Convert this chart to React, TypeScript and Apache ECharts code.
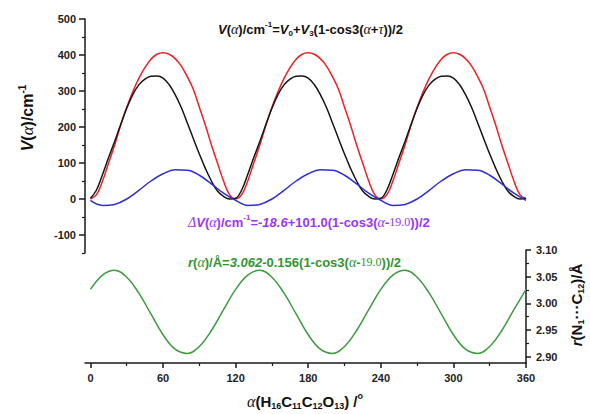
import React, { useEffect, useRef } from "react";
import * as echarts from "echarts";

// ---- data ----
const angles5 = [0,5,10,15,20,25,30,35,40,45,50,55,60,65,70,75,80,85,90,95,100,105,110,115,120,125,130,135,140,145,150,155,160,165,170,175,180,185,190,195,200,205,210,215,220,225,230,235,240,245,250,255,260,265,270,275,280,285,290,295,300,305,310,315,320,325,330,335,340,345,350,355,360];
const redV = [0,12,50,100,150,205,255,298,335,365,388,402,406,402,390,370,340,305,255,205,150,100,50,12,
  0,12,50,100,150,205,255,298,335,365,388,402,406,402,390,370,340,305,255,205,150,100,50,12,
  0,12,50,100,150,205,255,298,335,365,388,402,406,402,390,370,340,305,255,205,150,100,50,12,0];
const blackV = [2,25,68,115,160,207,252,290,317,333,341,342,336,318,290,255,212,168,125,85,50,22,7,0,
  2,25,68,115,160,207,252,290,317,333,341,342,336,318,290,255,212,168,125,85,50,22,7,0,
  2,25,68,115,160,207,252,290,317,333,341,342,336,318,290,255,212,168,125,85,50,22,7,0,2];
const angles10 = [0,10,20,30,40,50,60,70,80,90,100,110,120,130,140,150,160,170,180,190,200,210,220,230,240,250,260,270,280,290,300,310,320,330,340,350,360];
const blueDV = [-4,-18,-15,0,24,50,70,81,80,66,42,16,
  -4,-18,-15,0,24,50,70,81,80,66,42,16,
  -4,-18,-15,0,24,50,70,81,80,66,42,16,-4];
const greenR = [3.026,3.053,3.062,3.049,3.019,2.980,2.941,2.914,2.906,2.919,2.949,2.988,
  3.026,3.053,3.062,3.049,3.019,2.980,2.941,2.914,2.906,2.919,2.949,2.988,
  3.026,3.053,3.062,3.049,3.019,2.980,2.941,2.914,2.906,2.919,2.949,2.988,3.026];

const xMajor = [0, 60, 120, 180, 240, 300, 360];
const xMinor = [30, 90, 150, 210, 270, 330];
const vMajor = [-100, 0, 100, 200, 300, 400, 500];
const vMinor = [-150, -50, 50, 150, 250, 350, 450];
const rMajor = [2.9, 2.95, 3.0, 3.05, 3.1];
const rMinor = [2.925, 2.975, 3.025, 3.075];

const SANS = "'Liberation Sans', Arial, sans-serif";
const SERIF = "'Liberation Serif', 'Times New Roman', serif";
const AX = "#1a1a1a";

function richStyles(size: number, color: string) {
  return {
    b: { fontFamily: SANS, fontWeight: "bold", fontSize: size, fill: color, color, lineHeight: size + 4 },
    i: { fontFamily: SANS, fontWeight: "bold", fontStyle: "italic", fontSize: size, fill: color, color, lineHeight: size + 4 },
    bi: { fontFamily: SANS, fontWeight: "bold", fontStyle: "italic", fontSize: size, fill: color, color, lineHeight: size + 4 },
    g: { fontFamily: SERIF, fontStyle: "italic", fontSize: size + 1, fill: color, color, lineHeight: size + 4 },
    t: { fontFamily: SERIF, fontSize: size - 1, fill: color, color, lineHeight: size + 4 },
    sup: { fontFamily: SANS, fontWeight: "bold", fontSize: Math.round(size * 0.6), fill: color, color, verticalAlign: "top", lineHeight: size * 0.6 },
    sub: { fontFamily: SANS, fontWeight: "bold", fontSize: Math.round(size * 0.6), fill: color, color, verticalAlign: "bottom", lineHeight: size * 0.6 },
  };
}

const tickLabel = { fontFamily: SANS, fontWeight: "bold" as const, fontSize: 11, color: "#222" };

export default function App() {
  const ref = useRef<HTMLDivElement>(null);
  useEffect(() => {
    document.body.style.margin = "0";
    if (!ref.current) return;
    const chart = echarts.init(ref.current, undefined, { renderer: "svg" });
    const line = (name: string, xs: number[], ys: number[], color: string, xi: number, yi: number) => ({
      name,
      type: "line",
      xAxisIndex: xi,
      yAxisIndex: yi,
      data: xs.map((x, k) => [x, ys[k]]),
      smooth: 0.4,
      showSymbol: false,
      symbol: "none",
      lineStyle: { color, width: 1.5 },
      z: 3,
    });
    chart.setOption({
      animation: false,
      backgroundColor: "#ffffff",
      grid: [
        { left: 85, right: 64, top: 19, height: 234 },
        { left: 85, right: 64, top: 250, height: 113 },
      ],
      xAxis: [
        { gridIndex: 0, type: "value", min: -4.5, max: 360, show: false },
        {
          gridIndex: 1, type: "value", min: -4.5, max: 360, position: "bottom",
          axisLine: { show: true, onZero: false, lineStyle: { color: AX, width: 1.5 } },
          axisTick: { show: true, customValues: xMajor, length: 5, lineStyle: { color: AX, width: 1.5 } },
          axisLabel: { show: true, customValues: xMajor, margin: 9, ...tickLabel },
          splitLine: { show: false },
        },
        {
          gridIndex: 1, type: "value", min: -4.5, max: 360, position: "bottom",
          axisLine: { show: false, onZero: false },
          axisTick: { show: true, customValues: xMinor, length: 3, lineStyle: { color: AX, width: 1.2 } },
          axisLabel: { show: false },
          splitLine: { show: false },
        },
      ],
      yAxis: [
        {
          gridIndex: 0, type: "value", min: -150, max: 500, position: "left",
          axisLine: { show: true, onZero: false, lineStyle: { color: AX, width: 1.5 } },
          axisTick: { show: true, customValues: vMajor, length: 6, lineStyle: { color: AX, width: 1.5 } },
          axisLabel: { show: true, customValues: vMajor, margin: 9, ...tickLabel },
          splitLine: { show: false },
        },
        {
          gridIndex: 0, type: "value", min: -150, max: 500, position: "left",
          axisLine: { show: false, onZero: false },
          axisTick: { show: true, customValues: vMinor, length: 3, lineStyle: { color: AX, width: 1.2 } },
          axisLabel: { show: false },
          splitLine: { show: false },
        },
        {
          gridIndex: 1, type: "value", min: 2.888, max: 3.1, position: "right",
          axisLine: { show: true, onZero: false, lineStyle: { color: AX, width: 1.5 } },
          axisTick: { show: true, customValues: rMajor, length: 5, lineStyle: { color: AX, width: 1.5 } },
          axisLabel: { show: true, customValues: rMajor, margin: 10, formatter: (v: number) => v.toFixed(2), ...tickLabel },
          splitLine: { show: false },
        },
        {
          gridIndex: 1, type: "value", min: 2.888, max: 3.1, position: "right",
          axisLine: { show: false, onZero: false },
          axisTick: { show: true, customValues: rMinor, length: 3, lineStyle: { color: AX, width: 1.2 } },
          axisLabel: { show: false },
          splitLine: { show: false },
        },
      ],
      series: [
        line("V red", angles5, redV, "#ee1f26", 0, 0),
        line("V black", angles5, blackV, "#151515", 0, 0),
        line("dV blue", angles10, blueDV, "#2f2fd4", 0, 0),
        line("r green", angles10, greenR, "#3f9a3f", 1, 2),
      ],
      graphic: [
        {
          type: "text", x: 218, y: 29,
          style: {
            text: "{i|V}{b|(}{g|α}{b|)/cm}{sup|-1}{b|=}{i|V}{sub|0}{b|+}{i|V}{sub|3}{b|(1-cos3(}{g|α}{b|+}{g|τ}{b|))/2}",
            rich: richStyles(13, "#111111"), textAlign: "left", textVerticalAlign: "middle",
          },
        },
        {
          type: "text", x: 188, y: 222,
          style: {
            text: "{g|Δ}{i|V}{b|(}{g|α}{b|)/cm}{sup|-1}{b|=}{bi|-18.6}{b|+101.0(1-cos3(}{g|α}{b|-}{t|19.0}{b|))/2}",
            rich: richStyles(13, "#9a35f5"), textAlign: "left", textVerticalAlign: "middle",
          },
        },
        {
          type: "text", x: 188, y: 262,
          style: {
            text: "{i|r}{b|(}{g|α}{b|)/Å=}{bi|3.062}{b|-0.156(1-cos3(}{g|α}{b|-}{t|19.0}{b|))/2}",
            rich: richStyles(13, "#2f962f"), textAlign: "left", textVerticalAlign: "middle",
          },
        },
        {
          type: "text", x: 27, y: 118, rotation: Math.PI / 2,
          style: {
            text: "{i|V}{b|(}{g|α}{b|)/cm}{sup|-1}",
            rich: richStyles(16, "#111111"), textAlign: "center", textVerticalAlign: "middle",
          },
        },
        {
          type: "text", x: 576, y: 305, rotation: Math.PI / 2,
          style: {
            text: "{i|r}{b|(N}{sub|1}{b|···C}{sub|12}{b|)/Å}",
            rich: richStyles(15, "#111111"), textAlign: "center", textVerticalAlign: "middle",
          },
        },
        {
          type: "text", x: 305, y: 401,
          style: {
            text: "{g|α}{b|(H}{sub|16}{b|C}{sub|11}{b|C}{sub|12}{b|O}{sub|13}{b|) /}{sup|o}",
            rich: richStyles(15, "#111111"), textAlign: "center", textVerticalAlign: "middle",
          },
        },
      ],
    });
    return () => chart.dispose();
  }, []);
  return <div ref={ref} style={{ width: 590, height: 414 }} />;
}
